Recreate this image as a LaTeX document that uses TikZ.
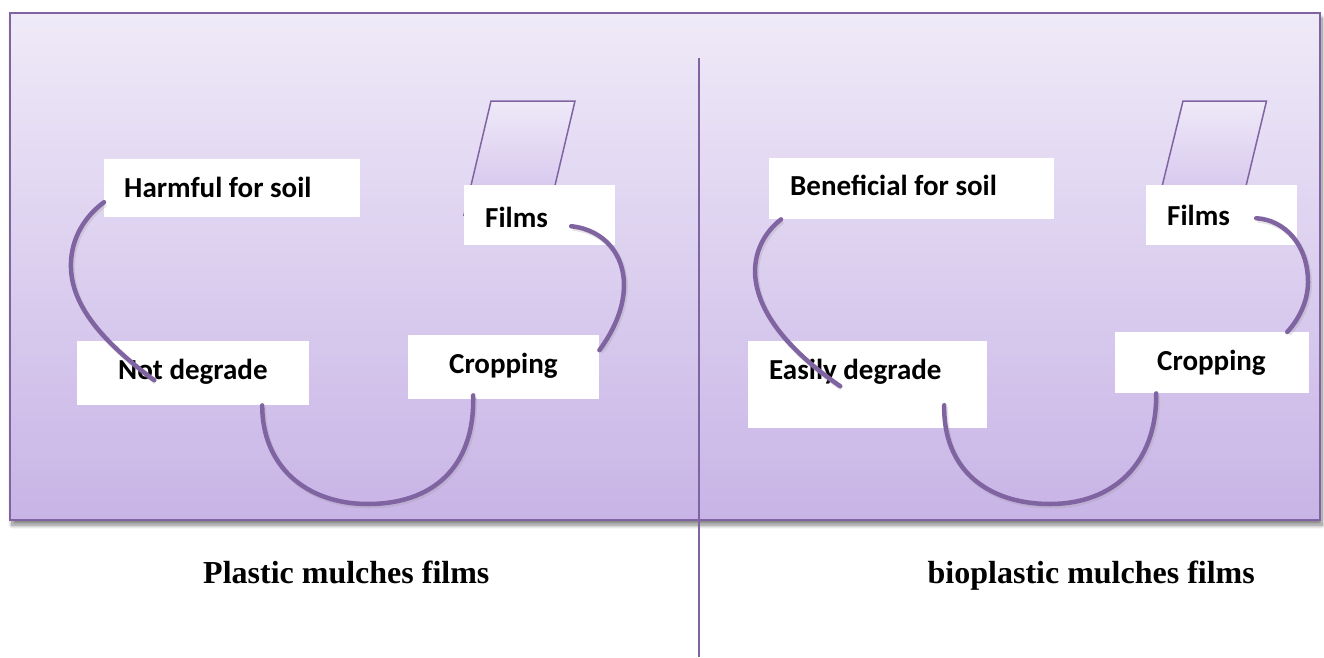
\documentclass[tikz,border=0pt]{standalone}
\usepackage{fontspec}
\setmainfont{Liberation Serif}
\newfontfamily\calib{Carlito}
\usetikzlibrary{shadows.blur,calc}
\definecolor{accent}{HTML}{8064A2}
\definecolor{bgtop}{HTML}{EFEAF8}
\definecolor{bgbot}{HTML}{C8B4E6}
\definecolor{partop}{HTML}{EFE9F8}
\definecolor{parbot}{HTML}{D0BFEB}
\tikzset{
  whitebox/.style={fill=white, draw=none, inner sep=0pt, anchor=north west},
  boxlabel/.style={inner sep=0pt, anchor=base west, font=\calib\bfseries\fontsize{29}{34}\selectfont},
  caption/.style={inner sep=0pt, font=\bfseries\fontsize{32}{38}\selectfont},
  loop/.style={draw=accent, line width=4.5pt, line cap=round,
    preaction={draw=black!40, draw opacity=0.25, line width=5pt, transform canvas={xshift=1.5pt,yshift=-2pt}}},
  filmtab/.style={draw=accent, line width=1.5pt, top color=partop, bottom color=parbot, line join=miter},
}
\begin{document}
\begin{tikzpicture}[x=1pt,y=-1pt]
\useasboundingbox (0,0) rectangle (1324,657);
% background panel
\path[blur shadow={shadow xshift=2pt, shadow yshift=-5pt, shadow opacity=50, shadow blur steps=10, shadow blur radius=4pt, shadow blur extra rounding=0pt},
      top color=bgtop, bottom color=bgbot, draw=accent, line width=2pt]
  (10,13) rectangle (1320,520);
% divider
\draw[accent, line width=1.5pt] (699,58) -- (699,657);
% film tabs
\path[filmtab] (491,101) -- (575,101) -- (548,215) -- (464,215) -- cycle;
\path[filmtab] (1183,101) -- (1266.5,101) -- (1239,215) -- (1155,215) -- cycle;
% left panel boxes
\node[whitebox, minimum width=256pt, minimum height=58pt] (harm) at (104,159) {};
\node[whitebox, minimum width=151pt, minimum height=60pt] (filmsL) at (464,185) {};
\node[whitebox, minimum width=191pt, minimum height=64pt] (cropL) at (408,335) {};
\node[whitebox, minimum width=232pt, minimum height=64pt] (notdeg) at (77,341) {};
\node[boxlabel] (harmT) at (124,197) {Harmful for soil};
\node[boxlabel] (filmsLT) at (485,227) {Films};
\node[boxlabel] (cropLT) at (449,373.5) {Cropping};
\node[boxlabel] (notdegT) at (118,379.5) {Not degrade};
% right panel boxes
\node[whitebox, minimum width=285pt, minimum height=61pt] (ben) at (769,158) {};
\node[whitebox, minimum width=151pt, minimum height=60pt] (filmsR) at (1146,185) {};
\node[whitebox, minimum width=194pt, minimum height=61pt] (cropR) at (1115,332) {};
\node[whitebox, minimum width=239pt, minimum height=87pt] (easy) at (748,341) {};
\node[boxlabel] (benT) at (790,195.5) {Beneficial for soil};
\node[boxlabel] (filmsRT) at (1167,225.5) {Films};
\node[boxlabel] (cropRT) at (1157,370) {Cropping};
\node[boxlabel] (easyT) at (769,379) {Easily degrade};
% left loops
\draw[loop] ([yshift=-14pt]harm.west) .. controls (80,220) and (70,245) .. (71,268)
  .. controls (72,310) and (110,347) .. ([xshift=-39pt,yshift=-7pt]notdeg.center);
\draw[loop] ([xshift=31.5pt,yshift=-11pt]filmsL.center) .. controls (605,230) and (624,255) .. (624,285)
  .. controls (624,310) and (612,333) .. ([yshift=17pt]cropL.east);
\draw[loop] ([xshift=-30.5pt,yshift=4pt]cropL.south) .. controls (475,470) and (430,504) .. (368,504)
  .. controls (305,504) and (262,465) .. ([xshift=69pt]notdeg.south);
% right loops
\draw[loop] ([xshift=12pt]ben.south west) .. controls (765,232) and (755,250) .. (755,272)
  .. controls (756,315) and (795,355) .. ([xshift=-27.5pt,yshift=-1.5pt]easy.center);
\draw[loop] ([xshift=34.5pt,yshift=-3pt]filmsR.center) .. controls (1285,220) and (1308,245) .. (1308,282)
  .. controls (1308,300) and (1300,318) .. ([xshift=75pt]cropR.north);
\draw[loop] ([xshift=-56pt]cropR.south) .. controls (1157,465) and (1112,504) .. (1050,504)
  .. controls (988,504) and (943,470) .. ([xshift=76.5pt,yshift=-20.5pt]easy.center);
% captions
\node[caption, anchor=base west] (capL) at (203,583) {Plastic mulches films};
\node[caption, anchor=base east] (capR) at (1255,583) {bioplastic mulches films};
\end{tikzpicture}
\end{document}
